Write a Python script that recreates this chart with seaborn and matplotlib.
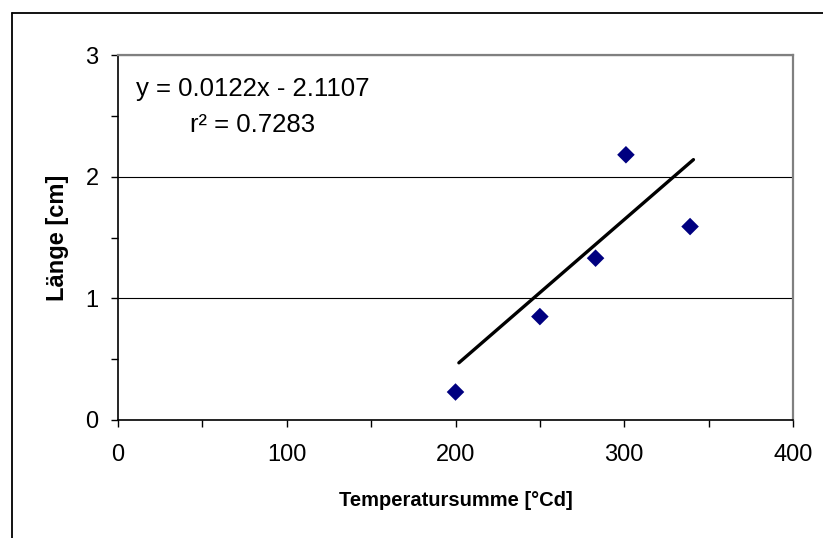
import matplotlib
matplotlib.use("Agg")
import matplotlib.pyplot as plt
from matplotlib.ticker import MultipleLocator
from matplotlib.lines import Line2D
import seaborn as sns
import pandas as pd

temp_sum = [200, 250, 283, 301, 339]
length_cm = [0.23, 0.85, 1.33, 2.18, 1.59]

# Trendlinie wie im Diagramm gezeichnet
trend_x = [202, 341]
trend_y = [0.47, 2.14]

equation = "y = 0.0122x - 2.1107"
r_squared = "r² = 0.7283"

df = pd.DataFrame({"Temperatursumme": temp_sum, "Laenge": length_cm})
trend = pd.DataFrame({"x": trend_x, "y": trend_y})

sns.set_style("white")
plt.rcParams["font.family"] = ["Liberation Sans", "DejaVu Sans"]
plt.rcParams["text.color"] = "black"
plt.rcParams["axes.labelcolor"] = "black"
plt.rcParams["xtick.color"] = "black"
plt.rcParams["ytick.color"] = "black"

fig = plt.figure(figsize=(8.23, 5.38), dpi=100)
ax = fig.add_axes([118 / 823, 1 - 420 / 538, 675 / 823, 365 / 538])

sns.scatterplot(data=df, x="Temperatursumme", y="Laenge", marker="D", s=80,
                color="#000080", edgecolor="none", ax=ax, zorder=3)
sns.lineplot(data=trend, x="x", y="y", color="black", linewidth=2.4, ax=ax, zorder=4)

ax.set_xlim(0, 400)
ax.set_ylim(0, 3)
ax.xaxis.set_major_locator(MultipleLocator(100))
ax.xaxis.set_minor_locator(MultipleLocator(50))
ax.yaxis.set_major_locator(MultipleLocator(1))
ax.yaxis.set_minor_locator(MultipleLocator(0.5))

ax.grid(axis="y", which="major", color="black", linewidth=0.8)
ax.set_axisbelow(True)

for s in ["left", "bottom"]:
    ax.spines[s].set_color("black")
    ax.spines[s].set_linewidth(1.2)
for s in ["top", "right"]:
    ax.spines[s].set_color("#808080")
    ax.spines[s].set_linewidth(1.6)

ax.tick_params(axis="both", which="both", direction="out", length=5, width=1,
               color="black", bottom=True, left=True)
ax.tick_params(axis="y", labelsize=17, pad=9, labelcolor="black")
ax.tick_params(axis="x", labelsize=17, pad=12, labelcolor="black")

ax.set_xlabel("Temperatursumme [°Cd]", fontsize=14.5, fontweight="bold")
ax.set_ylabel("Länge [cm]", fontsize=17, fontweight="bold")
ax.xaxis.set_label_coords(0.5, -0.195)
ax.yaxis.set_label_coords(-0.072, 0.5)

ax.text(0.199, 0.907, equation, transform=ax.transAxes, fontsize=18.5,
        ha="center", va="center")
ax.text(0.199, 0.808, r_squared, transform=ax.transAxes, fontsize=18.5,
        ha="center", va="center")

# Rahmen des Diagrammbereichs (oben und links sichtbar)
fig.add_artist(Line2D([12 / 823, 1], [1 - 13 / 538] * 2, transform=fig.transFigure,
                      color="black", linewidth=1.3))
fig.add_artist(Line2D([12 / 823] * 2, [0, 1 - 13 / 538], transform=fig.transFigure,
                      color="black", linewidth=1.3))

fig.savefig("out.png", dpi=100)
